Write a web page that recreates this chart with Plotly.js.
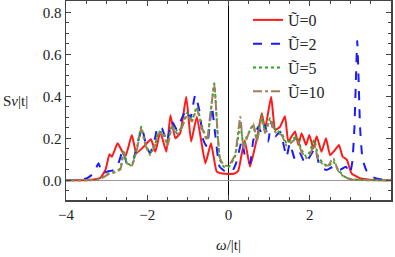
<!DOCTYPE html>
<html>
<head>
<meta charset="utf-8">
<script src="https://cdn.plot.ly/plotly-3.0.1.min.js"></script>
</head>
<body style="margin:0">
<div id="chart" style="width:395px;height:257px;"></div>
<script>
// Series names
var names = ['Ũ=0', 'Ũ=2', 'Ũ=5', 'Ũ=10'];

// Ũ=0
var w0 = [-4, -3.6, -3.4, -3.25, -3.15, -3.03, -2.93, -2.87, -2.73, -2.54, -2.38, -2.27, -2.09, -1.91, -1.80, -1.68, -1.53, -1.43, -1.31, -1.19, -1.04, -0.92, -0.78, -0.57, -0.43, -0.29, -0.15, 0, 0.15, 0.24, 0.33, 0.40, 0.53, 0.70, 0.82, 0.90, 1.05, 1.15, 1.27, 1.39, 1.47, 1.55, 1.64, 1.72, 1.80, 1.91, 1.99, 2.09, 2.17, 2.29, 2.40, 2.50, 2.62, 2.72, 2.81, 2.91, 3.03, 3.23, 3.48, 4];
var s0 = [0, 0, 0.002, 0.006, 0.012, 0.049, 0.124, 0.112, 0.176, 0.112, 0.216, 0.129, 0.16, 0.195, 0.136, 0.23, 0.136, 0.31, 0.2, 0.224, 0.398, 0.184, 0.303, 0.081, 0.176, 0.041, 0.032, 0.03, 0.032, 0.045, 0.13, 0.19, 0.065, 0.2, 0.319, 0.245, 0.398, 0.24, 0.255, 0.305, 0.184, 0.208, 0.232, 0.168, 0.224, 0.168, 0.216, 0.152, 0.21, 0.136, 0.2, 0.12, 0.144, 0.168, 0.112, 0.1, 0.033, 0.01, 0.003, 0];

// Ũ=2
var w2 = [-4, -3.7, -3.48, -3.32, -3.20, -3.11, -2.99, -2.83, -2.71, -2.60, -2.50, -2.35, -2.24, -2.13, -2.02, -1.93, -1.80, -1.75, -1.64, -1.52, -1.39, -1.27, -1.15, -1.04, -0.94, -0.82, -0.72, -0.62, -0.53, -0.41, -0.33, -0.22, -0.1, 0, 0.1, 0.2, 0.33, 0.41, 0.53, 0.61, 0.73, 0.82, 0.90, 0.98, 1.05, 1.15, 1.27, 1.43, 1.51, 1.64, 1.76, 1.88, 2.0, 2.13, 2.25, 2.41, 2.58, 2.74, 2.89, 2.99, 3.05, 3.10, 3.14, 3.17, 3.20, 3.24, 3.30, 3.40, 3.55, 3.7, 4];
var s2 = [0, 0.002, 0.01, 0.033, 0.081, 0.033, 0.041, 0.049, 0.081, 0.144, 0.081, 0.097, 0.176, 0.248, 0.16, 0.129, 0.208, 0.255, 0.248, 0.184, 0.279, 0.24, 0.295, 0.335, 0.295, 0.406, 0.335, 0.192, 0.16, 0.35, 0.224, 0.065, 0.045, 0.042, 0.045, 0.089, 0.19, 0.112, 0.081, 0.19, 0.255, 0.224, 0.263, 0.184, 0.279, 0.208, 0.232, 0.112, 0.176, 0.097, 0.129, 0.081, 0.112, 0.152, 0.065, 0.049, 0.065, 0.049, 0.065, 0.033, 0.09, 0.25, 0.5, 0.665, 0.5, 0.25, 0.1, 0.045, 0.015, 0.006, 0.001];

// Ũ=5 and Ũ=10 (same frequency grid)
var w5 = [-4, -3.5, -3.24, -3.07, -2.95, -2.79, -2.66, -2.58, -2.50, -2.38, -2.25, -2.15, -2.05, -1.93, -1.80, -1.72, -1.60, -1.50, -1.39, -1.27, -1.15, -1.02, -0.90, -0.78, -0.66, -0.53, -0.45, -0.35, -0.27, -0.21, -0.12, 0, 0.16, 0.29, 0.37, 0.45, 0.61, 0.70, 0.82, 0.90, 1.02, 1.15, 1.31, 1.43, 1.55, 1.68, 1.80, 1.92, 2.0, 2.11, 2.21, 2.33, 2.45, 2.58, 2.70, 2.86, 3.03, 3.3, 4];
var s5 = [0, 0, 0.003, 0.017, 0.033, 0.041, 0.057, 0.144, 0.081, 0.073, 0.16, 0.255, 0.176, 0.129, 0.176, 0.232, 0.224, 0.176, 0.263, 0.224, 0.255, 0.319, 0.287, 0.35, 0.263, 0.192, 0.303, 0.462, 0.224, 0.097, 0.065, 0.063, 0.112, 0.27, 0.16, 0.208, 0.26, 0.192, 0.311, 0.232, 0.295, 0.24, 0.224, 0.176, 0.192, 0.208, 0.144, 0.112, 0.136, 0.192, 0.112, 0.081, 0.065, 0.09, 0.049, 0.017, 0.005, 0.001, 0];
var w10 = w5;
var s10 = [0, 0, 0.003, 0.015, 0.03, 0.038, 0.052, 0.135, 0.078, 0.07, 0.15, 0.245, 0.17, 0.12, 0.17, 0.225, 0.215, 0.165, 0.255, 0.215, 0.25, 0.31, 0.28, 0.34, 0.255, 0.19, 0.31, 0.455, 0.23, 0.105, 0.072, 0.07, 0.12, 0.303, 0.15, 0.2, 0.27, 0.185, 0.3, 0.225, 0.285, 0.23, 0.215, 0.165, 0.18, 0.2, 0.135, 0.105, 0.12, 0.17, 0.1, 0.075, 0.07, 0.105, 0.045, 0.015, 0.004, 0.001, 0];

// Axis ticks
var xTicks = [-4, -2, 0, 2, 4];
var yTicks = [0.0, 0.2, 0.4, 0.6, 0.8];

function tr(x, y, name, color, dash) {
  return {x: x, y: y, name: name, type: 'scatter', mode: 'lines',
    line: {color: color, dash: dash, width: 2, shape: 'spline', smoothing: 0.4}};
}

var data = [
  tr(w0, s0, names[0], '#ff1a1a', 'solid'),
  tr(w2, s2, names[1], '#1a1aff', 'dash'),
  tr(w5, s5, names[2], '#22aa22', 'dot'),
  tr(w10, s10, names[3], '#a0805a', 'dashdot')
];

var layout = {
  width: 395, height: 257,
  margin: {l: 66, r: 4, t: 1, b: 57},
  font: {family: 'Times New Roman', size: 15, color: '#222'},
  showlegend: true,
  legend: {x: 0.56, y: 0.99, xanchor: 'left', yanchor: 'top', bgcolor: 'rgba(0,0,0,0)',
    font: {family: 'Times New Roman', size: 16}, tracegroupgap: 0},
  xaxis: {
    range: [-4.001, 4.001], tickvals: xTicks,
    ticktext: xTicks.map(function(v){return v < 0 ? '\u2212' + Math.abs(v) : String(v);}),
    tickfont: {family: 'Times New Roman', size: 15},
    showgrid: false, showline: true, linecolor: '#444', linewidth: 1.5, mirror: 'ticks',
    ticks: 'inside', ticklen: 5, tickcolor: '#444',
    minor: {dtick: 0.5, tick0: -4, ticks: 'inside', ticklen: 3, tickcolor: '#444'},
    zeroline: true, zerolinecolor: '#000', zerolinewidth: 1,
    title: {text: '<i>ω</i>/|t|', font: {family: 'Times New Roman', size: 15}, standoff: 18}
  },
  yaxis: {
    range: [-0.094, 0.854], tickvals: yTicks,
    ticktext: yTicks.map(function(v){return v.toFixed(1);}),
    tickfont: {family: 'Times New Roman', size: 15},
    showgrid: false, showline: true, linecolor: '#444', linewidth: 1.5, mirror: 'ticks',
    ticks: 'inside', ticklen: 5, tickcolor: '#444',
    minor: {dtick: 0.05, tick0: 0, ticks: 'inside', ticklen: 3, tickcolor: '#444'},
    zeroline: true, zerolinecolor: '#999', zerolinewidth: 1.5
  },
  annotations: [{
    text: 'S<i>ν</i>|t|', xref: 'paper', yref: 'paper', x: -0.2, y: 0.5,
    xanchor: 'left', yanchor: 'middle', showarrow: false,
    font: {family: 'Times New Roman', size: 15}
  }]
};

Plotly.newPlot('chart', data, layout, {staticPlot: true, displayModeBar: false});
</script>
</body>
</html>
